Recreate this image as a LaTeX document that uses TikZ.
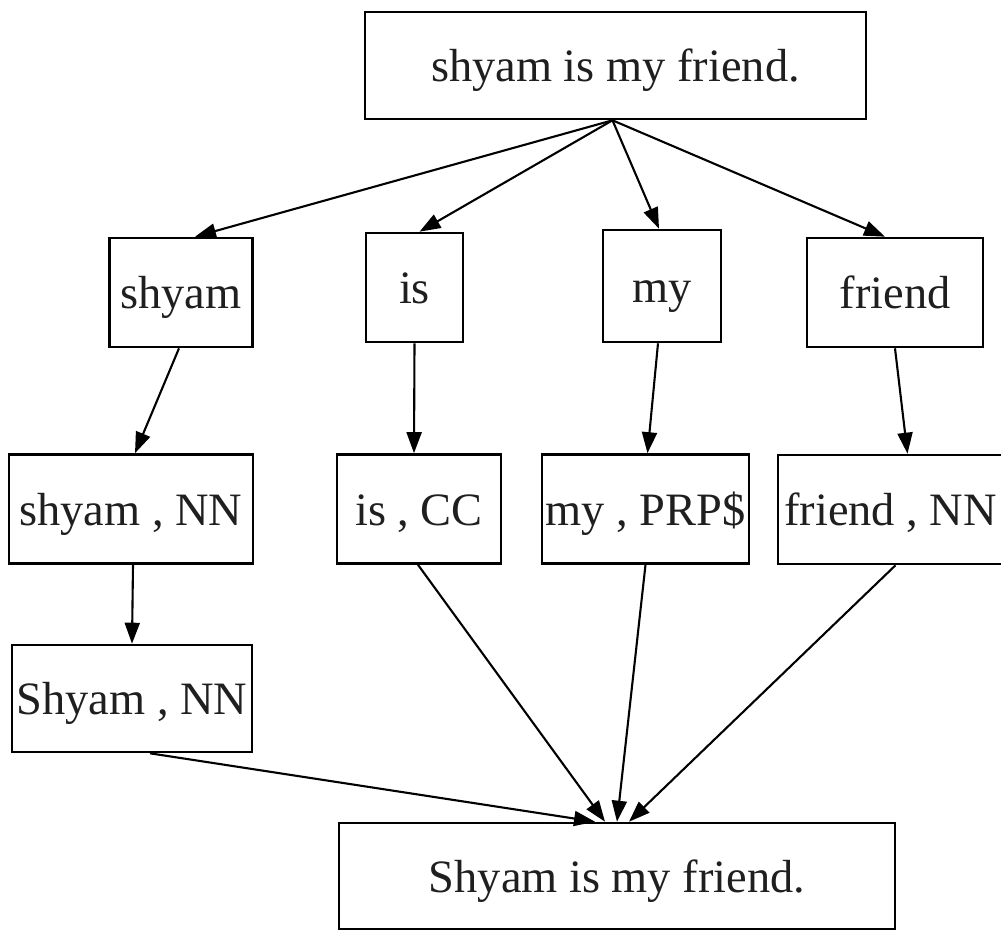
\documentclass[tikz,border=0pt]{standalone}
\usepackage{fontspec}
\setmainfont{Liberation Serif}
\usetikzlibrary{arrows.meta,calc}
\begin{document}
\begin{tikzpicture}[x=0.5pt,y=-0.5pt,
  box/.style={draw, line width=1.3pt, inner sep=0pt,
    text height=16pt, text depth=0pt,
    font=\fontsize{23.2}{28}\selectfont, text=black!88},
  link/.style={line width=1.05pt, -{Triangle[length=10.5pt,width=7.5pt]}},
]
\useasboundingbox (0,0) rectangle (1001,931);

% sentence in
\node[box, minimum width=250.5pt, minimum height=53.5pt] (src) at (615.5,65.5) {shyam is my friend.};

% tokens
\node[box, minimum width=71.5pt, minimum height=54.5pt] (t1) at (181,292.5) {shyam};
\node[box, minimum width=48.5pt, minimum height=54.5pt] (t2) at (414.5,287.5) {is};
\node[box, minimum width=59pt,   minimum height=56pt]   (t3) at (662,286) {my};
\node[box, minimum width=88pt,   minimum height=54.5pt] (t4) at (895,292.5) {friend};

% tagged tokens
\node[box, minimum width=122pt,   minimum height=54.5pt] (p1) at (131,509) {shyam , NN};
\node[box, minimum width=82pt,    minimum height=54.5pt] (p2) at (419,509) {is , CC};
\node[box, minimum width=103.5pt, minimum height=54.5pt] (p3) at (645.5,509) {my , PRP\$};
\node[box, minimum width=112.5pt, minimum height=54.5pt] (p4) at (890.5,509.5) {friend , NN};

% capitalised
\node[box, minimum width=120pt, minimum height=53.5pt] (c1) at (132,698.5) {Shyam , NN};

% sentence out
\node[box, minimum width=278pt, minimum height=53pt] (out) at (617,876) {Shyam is my friend.};

% tokenising
\draw[link] ($(src.south)+(-3,0)$) -- ($(t1.north)+(14,0)$);
\draw[link] ($(src.south)+(-3,0)$) -- ($(t2.north)+(5,0)$);
\draw[link] ($(src.south)+(-3,0)$) -- ($(t3.north)+(-3,0)$);
\draw[link] ($(src.south)+(-3,0)$) -- ($(t4.north)+(-10,0)$);

% tagging
\draw[link] ($(t1.south)+(-2,0)$) -- ($(p1.north)+(4,0)$);
\draw[link] ($(t2.south)+(0,0)$) -- ($(p2.north)+(-5,0)$);
\draw[link] ($(t3.south)+(-4,0)$) -- ($(p3.north)+(2,0)$);
\draw[link] (t4.south) -- ($(p4.north)+(17,0)$);

% capitalising
\draw[link] ($(p1.south)+(2,0)$) -- (c1.north);

% joining
\draw[link] ($(c1.south)+(18,0)$) -- ($(out.north)+(-22,0)$);
\draw[link] ($(p2.south)+(-1,0)$) -- ($(out.north)+(-12,0)$);
\draw[link] ($(p3.south)+(0,0)$) -- ($(out.north)+(0,0)$);
\draw[link] ($(p4.south)+(5,0)$) -- ($(out.north)+(12,0)$);
\end{tikzpicture}
\end{document}
